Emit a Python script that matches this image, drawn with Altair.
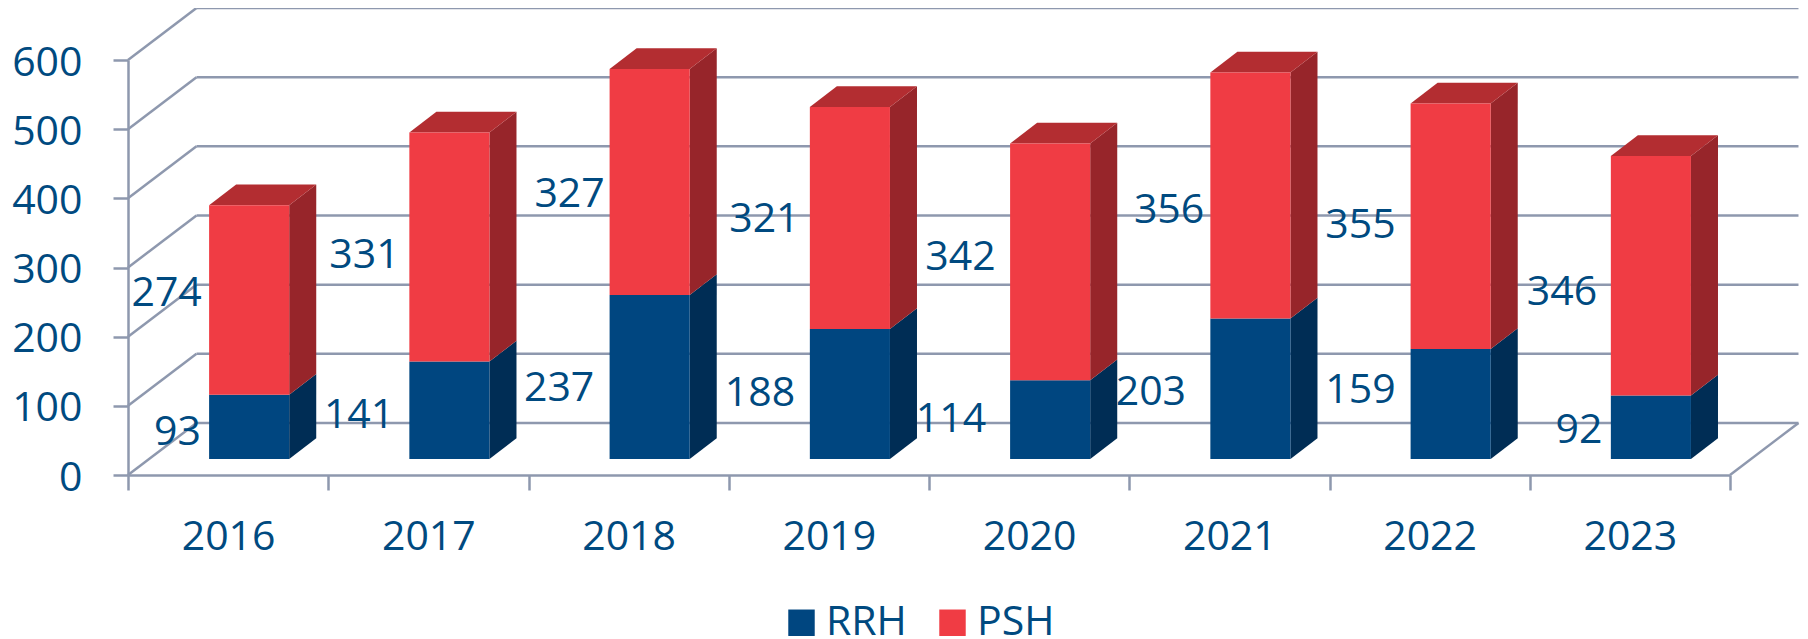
import altair as alt
import pandas as pd

years = ["2016", "2017", "2018", "2019", "2020", "2021", "2022", "2023"]
rrh = [93, 141, 237, 188, 114, 203, 159, 92]
psh = [274, 331, 327, 321, 342, 356, 355, 346]
rrh_label_x = [0.247, 1.154, 2.153, 3.156, 4.11, 5.108, 6.155, 7.246]
rrh_label_y = [64, 88, 127, 120, 83, 122, 125, 67]
psh_label_x = [0.193, 1.181, 2.205, 3.178, 4.157, 5.199, 6.155, 7.161]
psh_label_y = [265, 320, 407, 372, 317, 385, 363, 266]
y_ticks = [0, 100, 200, 300, 400, 500, 600]

FONT = "Open Sans"
TEXT = "#004A80"
GRID = "#8E98AE"
BLUE = "#004680"
RED = "#F03C44"
RED_SIDE = "#97252A"
RED_TOP = "#B32D31"
BLUE_SIDE = "#002D55"

# depth of the 3D box and of the bars, in data units
WALL_X, WALL_Y = 0.342, 75.2
BAR_W, BAR_LEFT = 0.4, 0.405
BAR_LIFT = 23.1
DEPTH_X, DEPTH_Y = 0.135, 30.0

xs = alt.Scale(domain=[0, 8], nice=False, zero=False)
ys = alt.Scale(domain=[0, 600], nice=False, zero=False)

tick_values = [n / 2 for n in range(17)]
year_expr = "(datum.value % 1) ? toString(2016 + floor(datum.value)) : ''"

x_axis = alt.Axis(
    values=tick_values,
    labelExpr=year_expr,
    grid=False,
    tickSize=15,
    tickWidth=2.5,
    tickColor=GRID,
    tickOpacity={"condition": {"test": "datum.value % 1 != 0", "value": 0}, "value": 1},
    domainColor=GRID,
    domainWidth=2.5,
    labelFont=FONT,
    labelFontSize=41,
    labelColor=TEXT,
    labelPadding=27,
    labelOverlap=False,
    labelFlush=False,
    labelAngle=0,
)
y_axis = alt.Axis(
    values=y_ticks,
    grid=False,
    tickSize=15,
    tickWidth=2.5,
    tickColor=GRID,
    domainColor=GRID,
    domainWidth=2.5,
    labelFont=FONT,
    labelFontSize=41,
    labelColor=TEXT,
    labelPadding=31,
    labelOffset=3,
    labelOverlap=False,
    labelFlush=False,
)


def X(field):
    return alt.X(field, scale=xs, title=None, axis=x_axis)


def Y(field):
    return alt.Y(field, scale=ys, title=None, axis=y_axis, stack=None)


back = pd.DataFrame({"v": y_ticks})
back["a"] = WALL_X
back["b"] = 8 + WALL_X
back["y"] = back["v"] + WALL_Y

wall = pd.DataFrame(
    [{"k": f"w{v}", "x": x, "y": y} for v in y_ticks for x, y in ((0, v), (WALL_X, v + WALL_Y))]
    + [{"k": "floor", "x": 8, "y": 0}, {"k": "floor", "x": 8 + WALL_X, "y": WALL_Y}]
)

front_rows, side_rows, top_rows = [], [], []
for i, year in enumerate(years):
    l = i + BAR_LEFT
    r = l + BAR_W
    a = BAR_LIFT
    b = a + rrh[i]
    c = b + psh[i]
    front_rows.append({"year": year, "s": "RRH", "l": l, "r": r, "lo": a, "hi": b})
    front_rows.append({"year": year, "s": "PSH", "l": l, "r": r, "lo": b, "hi": c})
    for s, lo, hi in (("RRH", a, b), ("PSH", b, c)):
        side_rows.append({"k": year + s, "s": s, "x": r, "lo": lo, "hi": hi})
        side_rows.append({"k": year + s, "s": s, "x": r + DEPTH_X, "lo": lo + DEPTH_Y, "hi": hi + DEPTH_Y})
    top_rows += [
        {"k": year, "x": l, "lo": c, "hi": c},
        {"k": year, "x": l + DEPTH_X, "lo": c, "hi": c + DEPTH_Y},
        {"k": year, "x": r, "lo": c, "hi": c + DEPTH_Y},
        {"k": year, "x": r + DEPTH_X, "lo": c + DEPTH_Y, "hi": c + DEPTH_Y},
    ]
front = pd.DataFrame(front_rows)
side = pd.DataFrame(side_rows)
top = pd.DataFrame(top_rows)

labels = pd.DataFrame(
    {
        "x": rrh_label_x + psh_label_x,
        "y": rrh_label_y + psh_label_y,
        "t": [str(v) for v in rrh + psh],
    }
)

back_layer = (
    alt.Chart(back)
    .mark_rule(color=GRID, strokeWidth=2.5)
    .encode(x=X("a:Q"), x2="b:Q", y=Y("y:Q"))
)

wall_layer = (
    alt.Chart(wall)
    .mark_line(color=GRID, strokeWidth=2.5, clip=False)
    .encode(x=X("x:Q"), y=Y("y:Q"), detail="k:N")
)


def side_layer(series, color):
    return (
        alt.Chart(side[side["s"] == series])
        .mark_area(color=color, opacity=1)
        .encode(x=X("x:Q"), y=Y("lo:Q"), y2="hi:Q", detail="k:N")
    )


top_layer = (
    alt.Chart(top)
    .mark_area(color=RED_TOP, opacity=1)
    .encode(x=X("x:Q"), y=Y("lo:Q"), y2="hi:Q", detail="k:N")
)

front_layer = (
    alt.Chart(front)
    .mark_bar(opacity=1, cornerRadius=0)
    .encode(
        x=X("l:Q"),
        x2="r:Q",
        y=Y("lo:Q"),
        y2="hi:Q",
        color=alt.Color(
            "s:N",
            scale=alt.Scale(domain=["RRH", "PSH"], range=[BLUE, RED]),
            sort=["RRH", "PSH"],
            legend=alt.Legend(
                title=None,
                orient="none",
                legendX=653,
                legendY=542,
                direction="horizontal",
                symbolType="square",
                symbolSize=700,
                symbolStrokeWidth=0,
                symbolOpacity=1,
                labelFont=FONT,
                labelFontSize=41,
                labelColor=TEXT,
                labelOffset=4,
                columnPadding=25,
            ),
        ),
    )
)

label_layer = (
    alt.Chart(labels)
    .mark_text(font=FONT, fontSize=41, color=TEXT, align="center", baseline="middle", dy=2)
    .encode(x=X("x:Q"), y=Y("y:Q"), text="t:N")
)

chart = (
    alt.layer(
        back_layer,
        wall_layer,
        side_layer("RRH", BLUE_SIDE),
        side_layer("PSH", RED_SIDE),
        top_layer,
        front_layer,
        label_layer,
    )
    .properties(
        width=1602,
        height=415,
        autosize=alt.AutoSizeParams(type="none"),
        padding={"left": 120, "top": 52, "right": 70, "bottom": 164},
        background="white",
    )
    .configure_view(stroke=None)
)

chart.save("out.html", embed_options={"renderer": "svg", "actions": False})
